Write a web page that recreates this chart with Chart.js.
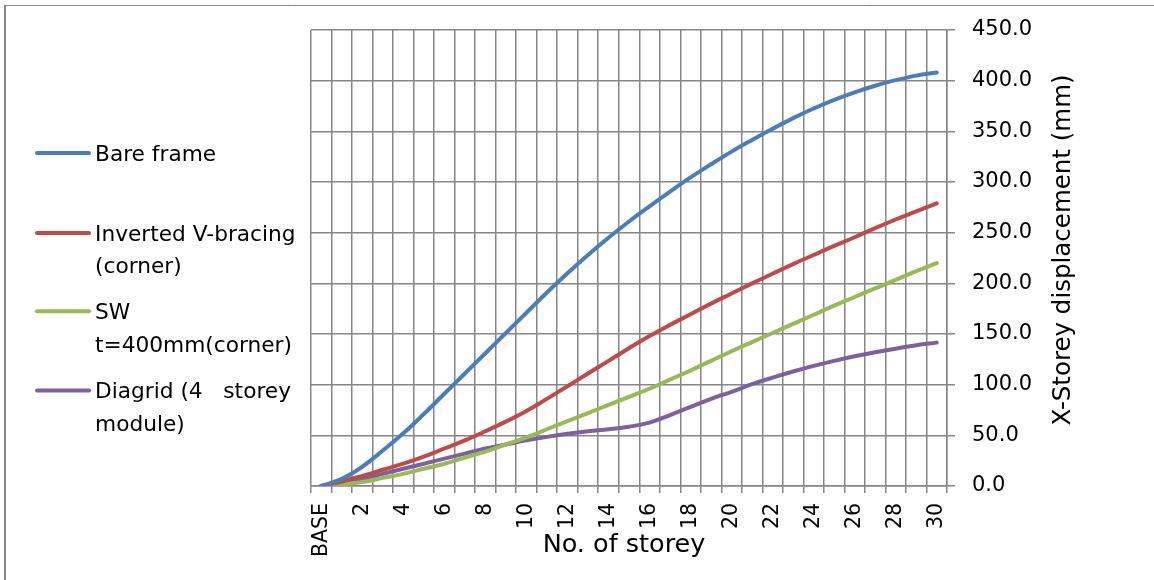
<!DOCTYPE html>
<html>
<head>
<meta charset="utf-8">
<script src="https://cdn.jsdelivr.net/npm/chart.js@4.4.1/dist/chart.umd.min.js"></script>
<style>
  html, body { margin: 0; padding: 0; background: #ffffff; }
  canvas { display: block; }
</style>
</head>
<body>
<canvas id="chart" width="1154" height="580"></canvas>
<script>
// Storey levels along the x axis
const storeys = ['BASE', '1', '2', '3', '4', '5', '6', '7', '8', '9', '10',
  '11', '12', '13', '14', '15', '16', '17', '18', '19', '20',
  '21', '22', '23', '24', '25', '26', '27', '28', '29', '30'];

// X-direction storey displacement (mm) per storey
const bareFrame = [0, 7, 19, 35, 52, 71, 91, 111, 131, 151, 171, 191, 210, 228, 245, 261,
  276, 290.5, 304.5, 317.5, 330, 341.5, 352.5, 363, 372.5, 381, 388.5, 395, 400.5, 405, 408];
const invertedVBracing = [0, 4.5, 10, 16, 22, 29, 37, 45, 54, 63.5, 74, 86, 98.5, 111, 123.5, 136,
  148, 159, 169.5, 180, 190, 200, 209.5, 219, 228, 237, 245.5, 254.5, 263, 271, 279];
const shearWall = [0, 1.5, 4, 8, 12, 17, 22, 28, 34, 41, 48, 56, 64, 72, 80, 88,
  96, 105, 114, 123.5, 133, 142, 151, 160, 169, 178, 186.5, 195, 203.5, 212, 220];
const diagrid = [0, 3, 7, 12, 17, 22, 27, 32, 37, 41, 45, 48.5, 51.5, 54, 56, 58.5,
  62.5, 70, 78, 86, 93, 100.5, 107, 113, 118.5, 123.5, 128, 132, 135.5, 139, 141.5];

const seriesNames = ['Bare frame', 'Inverted V-bracing (corner)', 'SW t=400mm(corner)', 'Diagrid (4   storey module)'];
const legendLines = [['Bare frame'], ['Inverted V-bracing', '(corner)'], ['SW', 't=400mm(corner)'], ['Diagrid (4   storey', 'module)']];
const seriesColors = ['#4A7EBB', '#BE4B48', '#98B954', '#7D60A0'];

const yTickValues = [0, 50, 100, 150, 200, 250, 300, 350, 400, 450];
const xTitle = 'No. of storey';
const yTitle = 'X-Storey displacement (mm)';

const FONT = "'DejaVu Sans', sans-serif";
const GRID = '#868686';

// Background, frame, legend and axis titles
const decor = {
  id: 'decor',
  beforeDraw(chart) {
    const ctx = chart.ctx;
    ctx.save();
    ctx.fillStyle = '#ffffff';
    ctx.fillRect(0, 0, chart.width, chart.height);
    ctx.restore();
  },
  afterDraw(chart) {
    const ctx = chart.ctx;
    ctx.save();

    // outer frame (left and top edges)
    ctx.strokeStyle = GRID;
    ctx.lineWidth = 2;
    ctx.beginPath();
    ctx.moveTo(5, 5);
    ctx.lineTo(5, chart.height);
    ctx.stroke();
    ctx.lineWidth = 1;
    ctx.beginPath();
    ctx.moveTo(4, 5.5);
    ctx.lineTo(chart.width, 5.5);
    ctx.stroke();

    // legend
    const baselines = [160.7, 240.7, 319, 398.3];
    const lineGap = 32.5;
    ctx.font = '21.7px ' + FONT;
    ctx.textAlign = 'left';
    ctx.textBaseline = 'alphabetic';
    chart.data.datasets.forEach((ds, i) => {
      const b = baselines[i];
      ctx.strokeStyle = ds.borderColor;
      ctx.lineWidth = 4;
      ctx.lineCap = 'round';
      ctx.beginPath();
      ctx.moveTo(37, b - 7.7);
      ctx.lineTo(89, b - 7.7);
      ctx.stroke();
      ctx.fillStyle = '#000000';
      legendLines[i].forEach((t, k) => ctx.fillText(t, 95, b + k * lineGap));
    });

    // x axis title
    ctx.font = '25.5px ' + FONT;
    ctx.textAlign = 'center';
    ctx.fillStyle = '#000000';
    ctx.fillText(xTitle, 624, 551.7);

    // y axis title, reading upward
    ctx.translate(1064, 250);
    ctx.rotate(-Math.PI / 2);
    ctx.font = '24.5px ' + FONT;
    ctx.textAlign = 'center';
    ctx.textBaseline = 'middle';
    ctx.fillText(yTitle, 0, 0);
    ctx.restore();
  }
};

const seriesData = [bareFrame, invertedVBracing, shearWall, diagrid];

new Chart(document.getElementById('chart'), {
  type: 'line',
  data: {
    labels: storeys,
    datasets: seriesData.map((d, i) => ({
      label: seriesNames[i],
      data: d,
      borderColor: seriesColors[i],
      backgroundColor: seriesColors[i],
      borderWidth: 4,
      pointRadius: 0,
      fill: false,
      tension: 0.4,
      borderCapStyle: 'round',
      borderJoinStyle: 'round'
    }))
  },
  options: {
    responsive: false,
    animation: false,
    events: [],
    layout: { padding: { left: 311, top: 30, right: 0, bottom: 0 } },
    plugins: {
      legend: { display: false },
      tooltip: { enabled: false },
      title: { display: false }
    },
    scales: {
      x: {
        type: 'category',
        offset: true,
        grid: { offset: true, color: GRID, lineWidth: 1.5, tickLength: 7, drawTicks: true },
        border: { color: GRID, width: 1.5 },
        ticks: {
          autoSkip: false,
          maxRotation: 90,
          minRotation: 90,
          padding: 10,
          color: '#000000',
          font: { family: FONT, size: 20.5 },
          callback: (v, i) => (i % 2 === 0 ? storeys[i] : '')
        },
        afterFit: (s) => { s.height = 94; }
      },
      y: {
        position: 'right',
        min: 0,
        max: 450,
        afterBuildTicks: (s) => { s.ticks = yTickValues.map(v => ({ value: v })); },
        grid: { color: GRID, lineWidth: 1.5, tickLength: 8, drawTicks: true },
        border: { color: GRID, width: 1.5 },
        ticks: {
          padding: 17,
          color: '#000000',
          font: { family: FONT, size: 21 },
          callback: (v) => Number(v).toFixed(1)
        },
        afterFit: (s) => { s.width = 207; }
      }
    }
  },
  plugins: [decor]
});
</script>
</body>
</html>
